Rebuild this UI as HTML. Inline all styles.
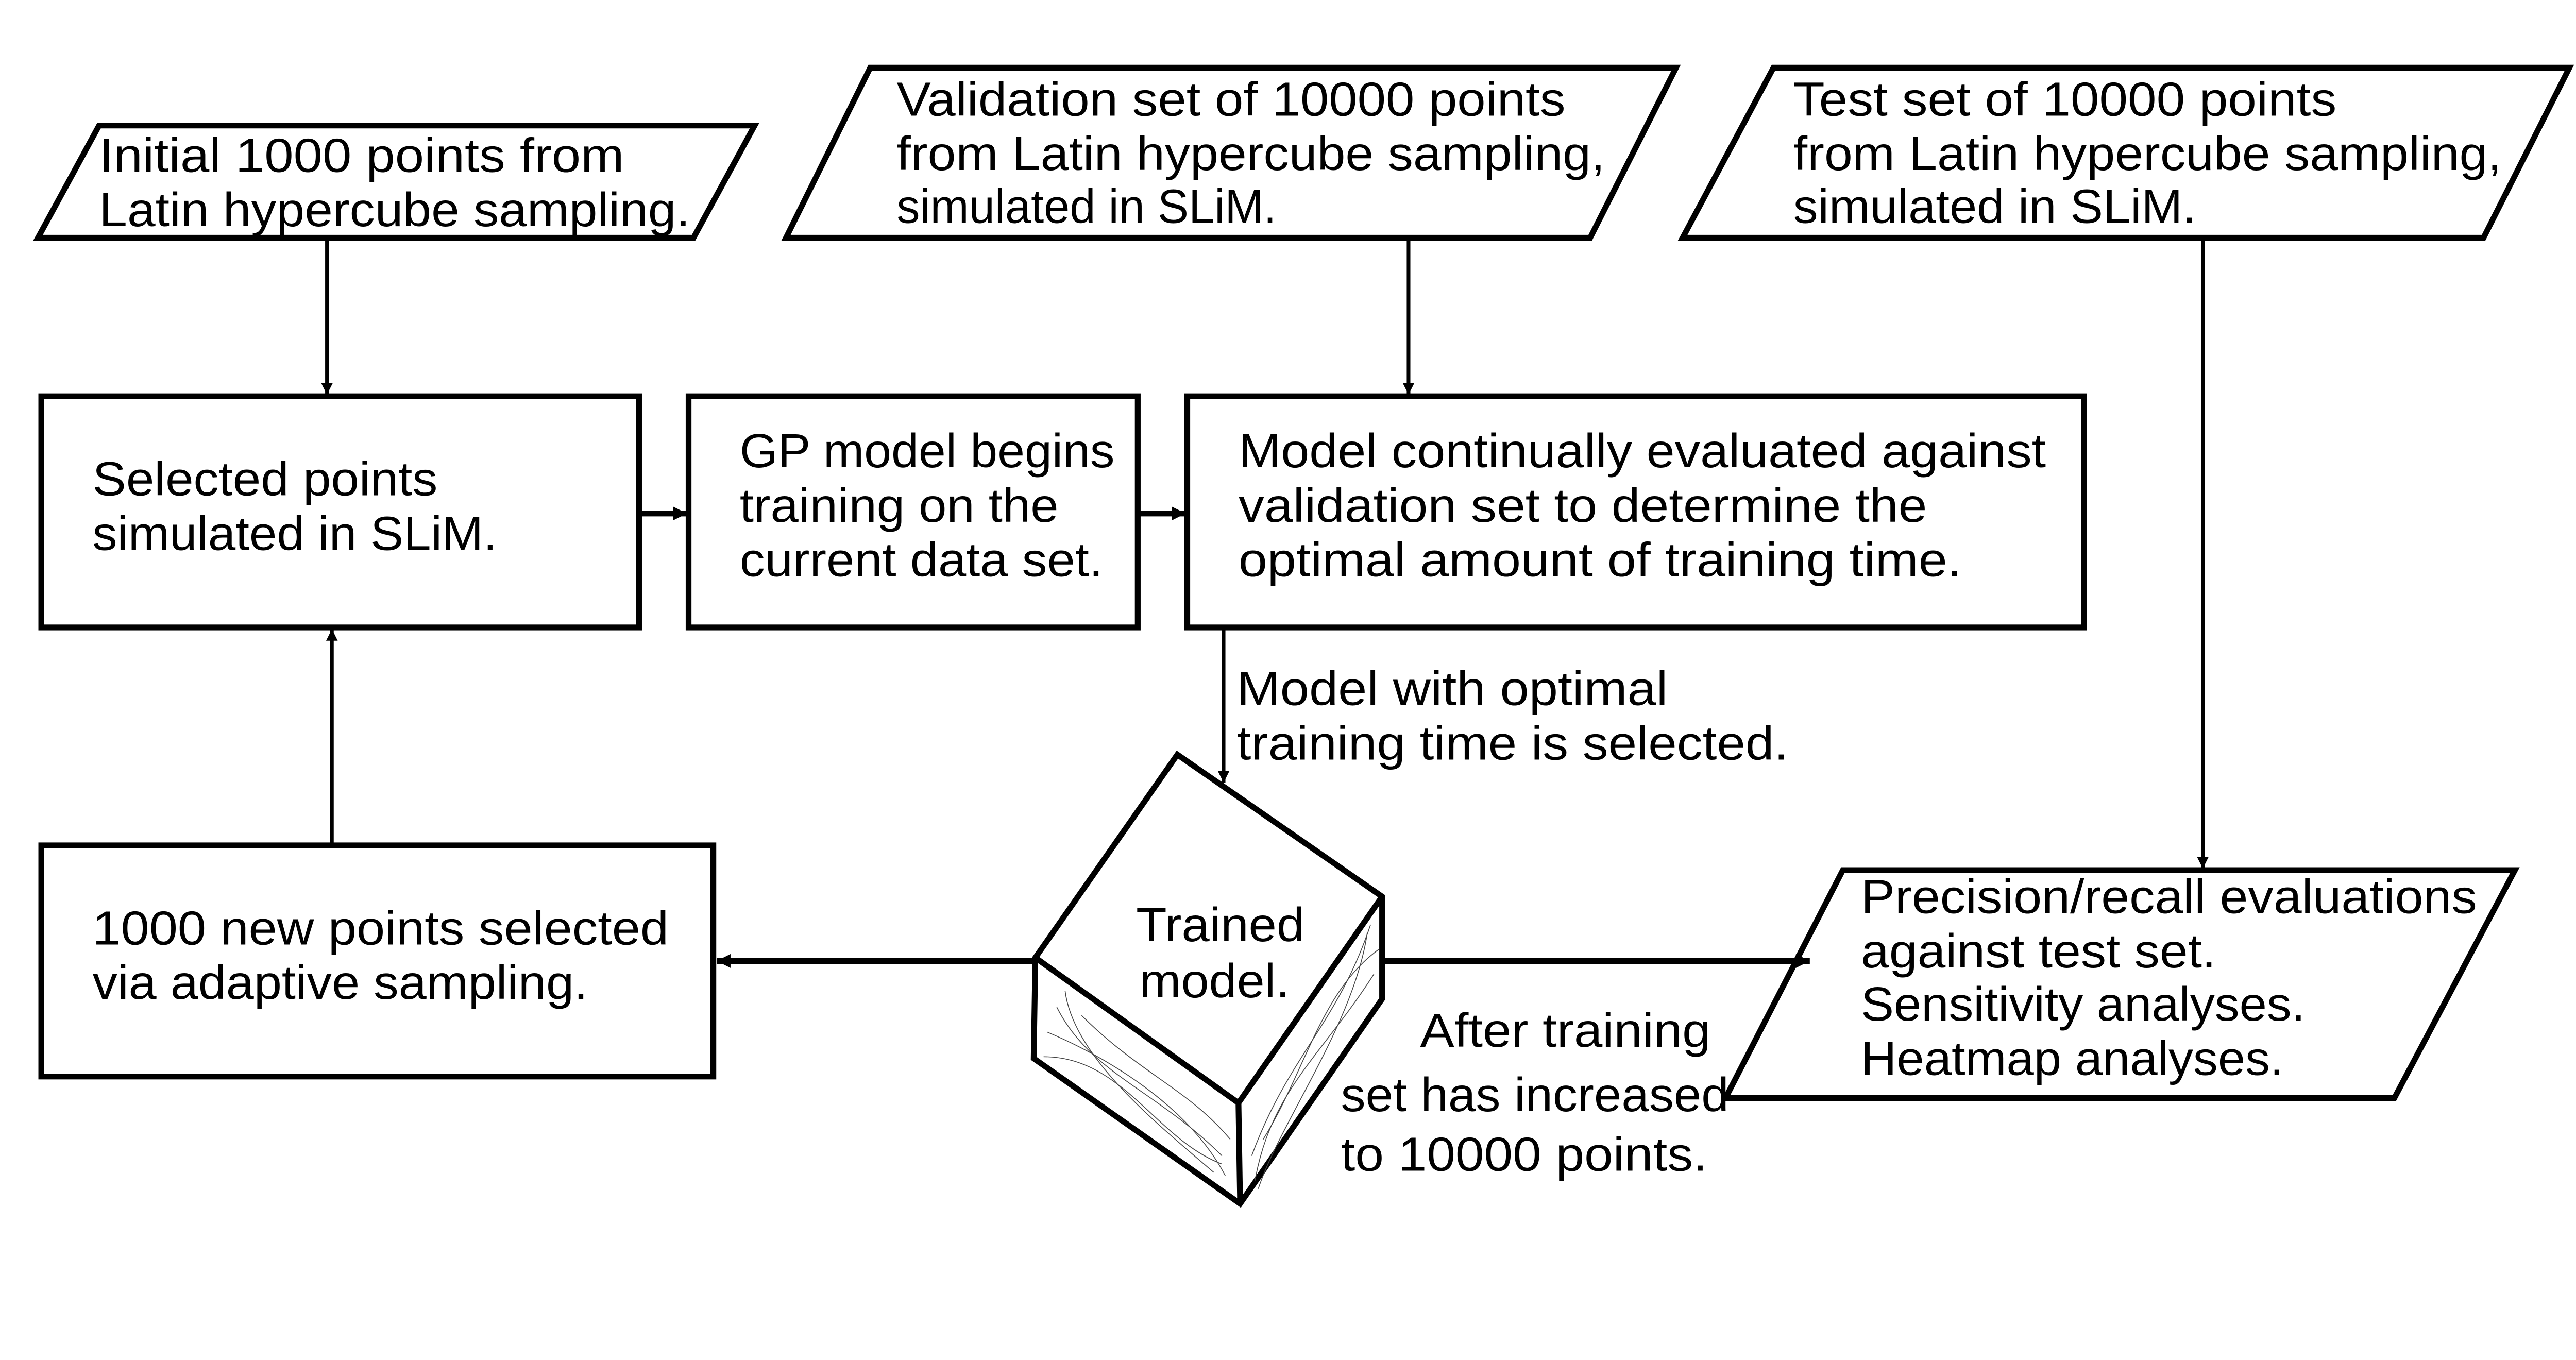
<!DOCTYPE html>
<html><head><meta charset="utf-8"><style>html,body{margin:0;padding:0;background:#fff;overflow:hidden}svg{display:block;position:absolute;left:0;top:0;width:100vw;height:50.7692vw}</style></head>
<body>
<svg xmlns="http://www.w3.org/2000/svg" viewBox="0 0 1560 792" preserveAspectRatio="none">
<rect width="1560" height="792" fill="#fff"/>
<defs>
<marker id="ah" viewBox="0 0 10 10" refX="10" refY="5" markerWidth="3.6" markerHeight="3.2" orient="auto" markerUnits="strokeWidth"><path d="M0,0 L10,5 L0,10 z" fill="#000"/></marker>
<marker id="ah2" viewBox="0 0 10 10" refX="10" refY="5" markerWidth="2.6" markerHeight="2.4" orient="auto" markerUnits="strokeWidth"><path d="M0,0 L10,5 L0,10 z" fill="#000"/></marker>
</defs>
<g fill="none" stroke="#000" stroke-width="3.5" stroke-linejoin="miter">
<polygon points="60,76 457,76 420,144 23,144"/>
<polygon points="527,41 1015,41 963,144 476,144"/>
<polygon points="1074,41 1556,41 1504,144 1019,144"/>
<rect x="25" y="240" width="362" height="140"/>
<rect x="417" y="240" width="272" height="140"/>
<rect x="719" y="240" width="543" height="140"/>
<rect x="25" y="512" width="407" height="140"/>
<polygon points="1116,527 1523,527 1450,665 1045,665"/>
<polygon points="713,457 837,543 837,605 751,729 626,641 627,580"/>
<polyline points="627,580 750,668 837,543"/>
<line x1="750" y1="668" x2="751" y2="729"/>
</g>
<g fill="none" stroke="#444" stroke-width="0.5">
<path d="M640,610 C660,650 700,660 740,700"/>
<path d="M634,625 C670,640 720,670 742,712"/>
<path d="M645,600 C650,640 700,680 735,710"/>
<path d="M632,640 C680,640 700,690 740,705"/>
<path d="M655,615 C690,650 720,660 745,690"/>
<path d="M760,715 C770,660 800,640 832,590"/>
<path d="M758,700 C780,640 810,620 830,560"/>
<path d="M765,690 C790,650 800,600 835,575"/>
<path d="M762,720 C775,680 820,620 828,565"/>
</g>
<g stroke="#000" stroke-width="2.2" fill="none">
<line x1="198" y1="144" x2="198" y2="239" marker-end="url(#ah)"/>
<line x1="853" y1="144" x2="853" y2="239" marker-end="url(#ah)"/>
<line x1="1334" y1="144" x2="1334" y2="526" marker-end="url(#ah)"/>
<line x1="741" y1="380" x2="741" y2="474" marker-end="url(#ah)"/>
<line x1="201" y1="512" x2="201" y2="381" marker-end="url(#ah)"/>
</g>
<g stroke="#000" stroke-width="3.5" fill="none">
<line x1="387" y1="311" x2="416" y2="311" marker-end="url(#ah2)"/>
<line x1="689" y1="311" x2="718" y2="311" marker-end="url(#ah2)"/>
<line x1="627" y1="582" x2="434" y2="582" marker-end="url(#ah2)"/>
<line x1="837" y1="582" x2="1096" y2="582" marker-end="url(#ah2)"/>
</g>
<g font-family="'Liberation Sans', sans-serif" font-size="29" fill="#000">
<text x="60" y="104" textLength="318" lengthAdjust="spacingAndGlyphs">Initial 1000 points from</text>
<text x="60" y="137" textLength="358" lengthAdjust="spacingAndGlyphs">Latin hypercube sampling.</text>
<text x="543" y="70" textLength="405" lengthAdjust="spacingAndGlyphs">Validation set of 10000 points</text>
<text x="543" y="103" textLength="429" lengthAdjust="spacingAndGlyphs">from Latin hypercube sampling,</text>
<text x="543" y="135" textLength="230" lengthAdjust="spacingAndGlyphs">simulated in SLiM.</text>
<text x="1086" y="70" textLength="329" lengthAdjust="spacingAndGlyphs">Test set of 10000 points</text>
<text x="1086" y="103" textLength="429" lengthAdjust="spacingAndGlyphs">from Latin hypercube sampling,</text>
<text x="1086" y="135" textLength="244" lengthAdjust="spacingAndGlyphs">simulated in SLiM.</text>
<text x="56" y="300" textLength="209" lengthAdjust="spacingAndGlyphs">Selected points</text>
<text x="56" y="333" textLength="245" lengthAdjust="spacingAndGlyphs">simulated in SLiM.</text>
<text x="448" y="283" textLength="227" lengthAdjust="spacingAndGlyphs">GP model begins</text>
<text x="448" y="316" textLength="193" lengthAdjust="spacingAndGlyphs">training on the</text>
<text x="448" y="349" textLength="220" lengthAdjust="spacingAndGlyphs">current data set.</text>
<text x="750" y="283" textLength="489" lengthAdjust="spacingAndGlyphs">Model continually evaluated against</text>
<text x="750" y="316" textLength="417" lengthAdjust="spacingAndGlyphs">validation set to determine the</text>
<text x="750" y="349" textLength="438" lengthAdjust="spacingAndGlyphs">optimal amount of training time.</text>
<text x="749" y="427" textLength="261" lengthAdjust="spacingAndGlyphs">Model with optimal</text>
<text x="749" y="460" textLength="334" lengthAdjust="spacingAndGlyphs">training time is selected.</text>
<text x="688" y="570" textLength="102" lengthAdjust="spacingAndGlyphs">Trained</text>
<text x="690" y="604" textLength="91" lengthAdjust="spacingAndGlyphs">model.</text>
<text x="56" y="572" textLength="349" lengthAdjust="spacingAndGlyphs">1000 new points selected</text>
<text x="56" y="605" textLength="300" lengthAdjust="spacingAndGlyphs">via adaptive sampling.</text>
<text x="1127" y="553" textLength="373" lengthAdjust="spacingAndGlyphs">Precision/recall evaluations</text>
<text x="1127" y="586" textLength="215" lengthAdjust="spacingAndGlyphs">against test set.</text>
<text x="1127" y="618" textLength="269" lengthAdjust="spacingAndGlyphs">Sensitivity analyses.</text>
<text x="1127" y="651" textLength="256" lengthAdjust="spacingAndGlyphs">Heatmap analyses.</text>
<text x="860" y="634" textLength="176" lengthAdjust="spacingAndGlyphs">After training</text>
<text x="812" y="673" textLength="235" lengthAdjust="spacingAndGlyphs">set has increased</text>
<text x="812" y="709" textLength="222" lengthAdjust="spacingAndGlyphs">to 10000 points.</text>
</g>
</svg>
</body></html>
